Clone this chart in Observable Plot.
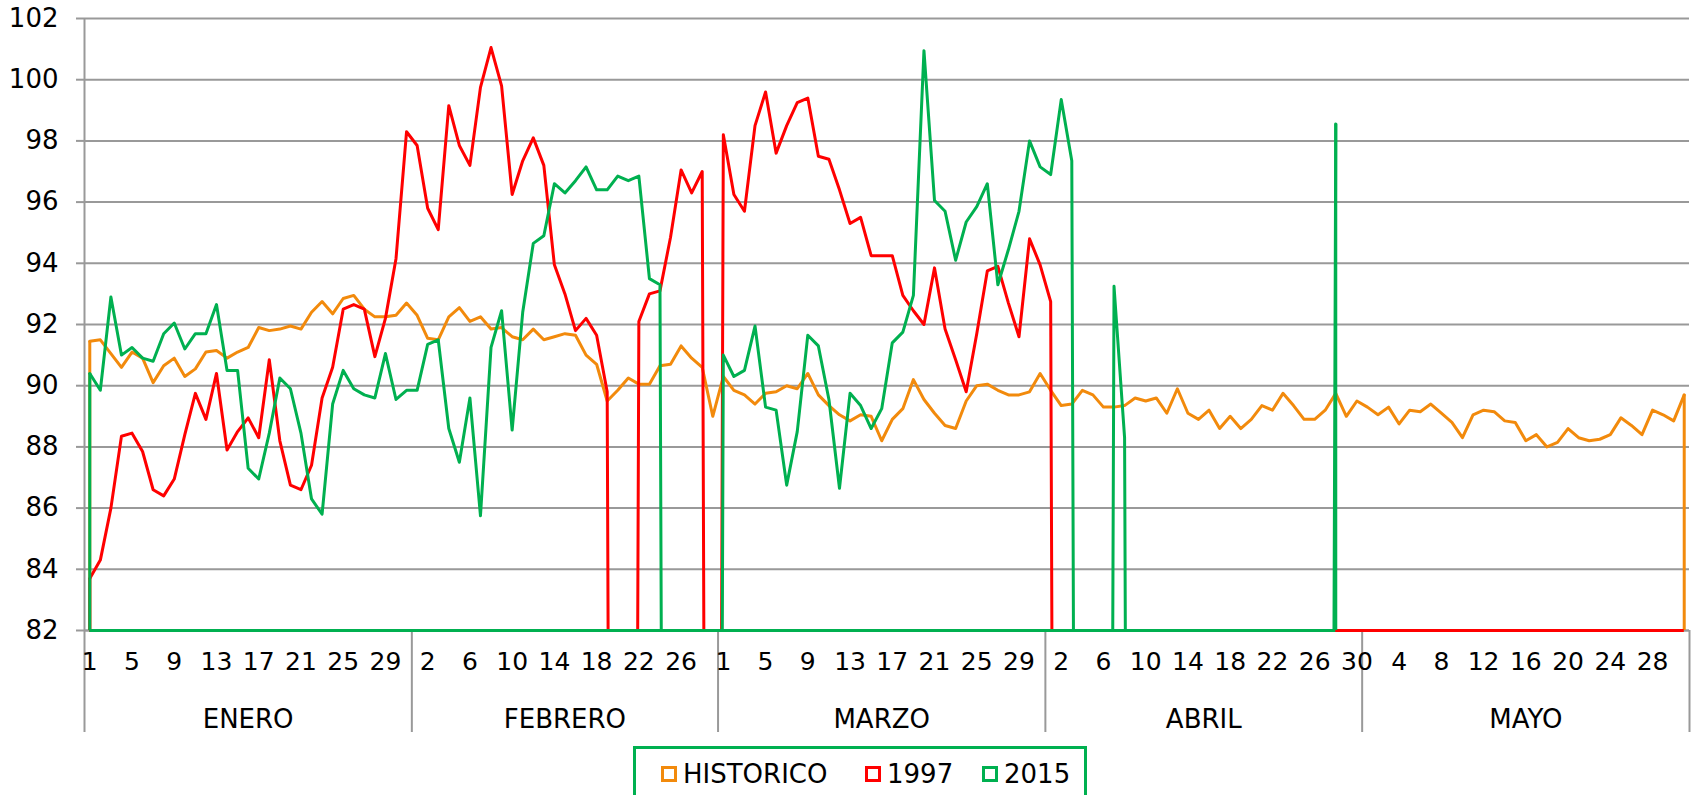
<!DOCTYPE html>
<html><head><meta charset="utf-8">
<script src="https://cdn.jsdelivr.net/npm/d3@7"></script>
<script src="https://cdn.jsdelivr.net/npm/@observablehq/plot@0.6"></script>
<style>
html,body{margin:0;padding:0;background:#fff;overflow:hidden;width:1700px;height:795px;position:relative}
#chart{position:absolute;left:0;top:0}
#legend{position:absolute;left:633px;top:746px;width:448px;height:80px;border:3px solid #00B050;box-sizing:content-box;font-family:'DejaVu Sans',Verdana,sans-serif;font-size:26px;color:#000}
.item{position:absolute;top:10px;display:flex;align-items:center;white-space:nowrap}
.sw{width:10px;height:10px;border:3px solid;margin-right:6px;background:#fff}
</style></head><body><div id="chart"></div><div id="legend"></div>
<script>
const months = ["ENERO","FEBRERO","MARZO","ABRIL","MAYO"];
const monthDays = [31,29,31,30,31];
const seriesNames = ["HISTORICO","1997","2015"];
const seriesColors = ["#F28A0C","#FF0000","#00B050"];
const yTicks = [82,84,86,88,90,92,94,96,98,100,102];

const historico = [
 91.45,91.5,91.05,90.6,91.1,90.9,90.1,90.65,90.9,90.3,90.55,91.1,91.15,90.9,91.1,91.25,91.9,91.8,91.85,91.95,91.85,92.4,92.75,92.35,92.85,92.95,92.5,92.25,92.25,92.3,92.7,
 92.3,91.55,91.5,92.25,92.55,92.1,92.25,91.85,91.9,91.6,91.5,91.85,91.5,91.6,91.7,91.65,91.0,90.7,89.5,89.85,90.25,90.05,90.05,90.65,90.7,91.3,90.9,90.6,89.0,
 90.3,89.85,89.7,89.4,89.75,89.8,90.0,89.9,90.4,89.7,89.35,89.05,88.85,89.05,89.0,88.2,88.9,89.25,90.2,89.55,89.1,88.7,88.6,89.5,90.0,90.05,89.85,89.7,89.7,89.8,90.4,
 89.85,89.35,89.4,89.85,89.7,89.3,89.3,89.35,89.6,89.5,89.6,89.1,89.9,89.1,88.9,89.2,88.6,89.0,88.6,88.9,89.35,89.2,89.75,89.35,88.9,88.9,89.2,89.75,89.0,89.5,
 89.3,89.05,89.3,88.75,89.2,89.15,89.4,89.1,88.8,88.3,89.05,89.2,89.15,88.85,88.8,88.2,88.4,88.0,88.15,88.6,88.3,88.2,88.25,88.4,88.95,88.7,88.4,89.2,89.05,88.85,89.7
];
const serie1997 = [
 83.7,84.3,86.0,88.35,88.45,87.85,86.6,86.4,86.95,88.4,89.75,88.9,90.4,87.9,88.5,88.95,88.3,90.85,88.2,86.75,86.6,87.4,89.6,90.6,92.5,92.65,92.5,90.95,92.2,94.15,98.3,
 97.85,95.8,95.1,99.15,97.85,97.2,99.75,101.05,99.8,96.25,97.35,98.1,97.2,93.95,93.0,91.8,92.2,91.65,89.8,0,0,92.1,93.0,93.1,94.85,97.05,96.3,97.0,0,
 98.2,96.25,95.7,98.5,99.6,97.6,98.5,99.25,99.4,97.5,97.4,96.4,95.3,95.5,94.25,94.25,94.25,92.95,92.45,92.0,93.85,91.85,90.85,89.8,91.7,93.75,93.9,92.7,91.6,94.8,93.95,
 92.75,0,0,0,0,0,0,0,0,0, 0,0,0,0,0,0,0,0,0,0, 0,0,0,0,0,0,0,0,0,0,
 0,0,0,0,0,0,0,0,0,0, 0,0,0,0,0,0,0,0,0,0, 0,0,0,0,0,0,0,0,0,0, 0
];
const serie2015 = [
 90.4,89.85,92.9,91.0,91.25,90.9,90.8,91.7,92.05,91.2,91.7,91.7,92.65,90.5,90.5,87.3,86.95,88.45,90.25,89.9,88.45,86.3,85.8,89.4,90.5,89.9,89.7,89.6,91.05,89.55,89.85,
 89.85,91.35,91.5,88.6,87.5,89.6,85.75,91.25,92.45,88.55,92.4,94.65,94.9,96.6,96.3,96.7,97.15,96.4,96.4,96.85,96.7,96.85,93.5,93.3,0,0,0,0,0,
 91.0,90.3,90.5,91.95,89.3,89.2,86.75,88.5,91.65,91.3,89.55,86.65,89.75,89.35,88.6,89.25,91.4,91.75,92.95,100.95,96.05,95.7,94.1,95.35,95.85,96.6,93.3,94.45,95.7,98.0,97.15,
 96.9,99.35,97.35,0,0,0,93.25,88.3,0,0, 0,0,0,0,0,0,0,0,0,0, 0,0,0,0,0,0,0,98.55,null,null,
 null,null,null,null,null,null,null,null,null,null, null,null,null,null,null,null,null,null,null,null, null,null,null,null,null,null,null,null,null,null, null
];
const seriesValues = [historico, serie1997, serie2015];

// calendar categories
const days = [];
monthDays.forEach((n, m) => { for (let d = 1; d <= n; d++) days.push({i: days.length, month: m, day: d}); });
const nDays = days.length;
const dayTicks = days.filter(d => d.i % 4 === 0).map(d => d.i);
const dayLabel = new Map(days.map(d => [d.i, String(d.day)]));
const monthStart = []; let acc = 0;
monthDays.forEach(n => { monthStart.push(acc); acc += n; });
const monthBounds = [...monthStart.map(s => s - 0.5), nDays - 0.5];
const monthCenters = monthStart.map((s, m) => s + (monthDays[m] - 1) / 2);
const monthLabel = new Map(monthCenters.map((c, m) => [c, months[m]]));

const yMin = yTicks[0], yMax = yTicks[yTicks.length - 1];
const grid = "#999999";

const seriesMarks = [];
seriesNames.forEach((name, s) => {
  const rows = seriesValues[s].map((v, i) => ({i, v}));
  const defined = rows.filter(r => r.v != null);
  const ends = [defined[0], defined[defined.length - 1]];
  const color = seriesColors[s];
  seriesMarks.push(
    Plot.line(rows, {x: "i", y: "v", stroke: color, strokeWidth: 3, clip: true}),
    Plot.ruleX(ends, {x: "i", y1: yMin, y2: d => Math.max(d.v, yMin), stroke: color, strokeWidth: 3}),
    Plot.ruleY([yMin], {x1: ends[0].i, x2: ends[1].i, stroke: color, strokeWidth: 3})
  );
});

const chart = Plot.plot({
  width: 1700, height: 746,
  marginTop: 18, marginBottom: 116, marginLeft: 84, marginRight: 11,
  x: {type: "linear", domain: [-0.5, nDays - 0.5], axis: null},
  y: {domain: [yMin, yMax], axis: null},
  style: {fontFamily: "'DejaVu Sans', Verdana, sans-serif", fontSize: "26px", color: "#000", background: "#fff", overflow: "visible"},
  marks: [
    Plot.gridY(yTicks, {stroke: grid, strokeOpacity: 1, strokeWidth: 2}),
    Plot.axisY(yTicks, {tickSize: 8, tickPadding: 18, stroke: grid, strokeWidth: 2, fontSize: 26, label: null}),
    Plot.ruleX([-0.5], {stroke: grid, strokeWidth: 2}),
    Plot.ruleY([yMin], {stroke: grid, strokeWidth: 2}),
    Plot.axisX(monthBounds, {tickSize: 102, tickFormat: () => "", stroke: grid, strokeWidth: 2, label: null}),
    Plot.axisX(dayTicks, {tickSize: 0, tickPadding: 22, tickFormat: i => dayLabel.get(i), fontSize: 25, label: null}),
    Plot.axisX(monthCenters, {tickSize: 0, tickPadding: 79, tickFormat: c => monthLabel.get(c), fontSize: 26, label: null}),
    ...seriesMarks
  ]
});
document.getElementById("chart").appendChild(chart);

// legend
const legendLeft = [25, 229, 346];
const legend = document.getElementById("legend");
seriesNames.forEach((name, s) => {
  const it = document.createElement("div");
  it.className = "item";
  it.style.left = legendLeft[s] + "px";
  const sw = document.createElement("span");
  sw.className = "sw"; sw.style.borderColor = seriesColors[s];
  const tx = document.createElement("span"); tx.textContent = name;
  it.appendChild(sw); it.appendChild(tx);
  legend.appendChild(it);
});
</script></body></html>
